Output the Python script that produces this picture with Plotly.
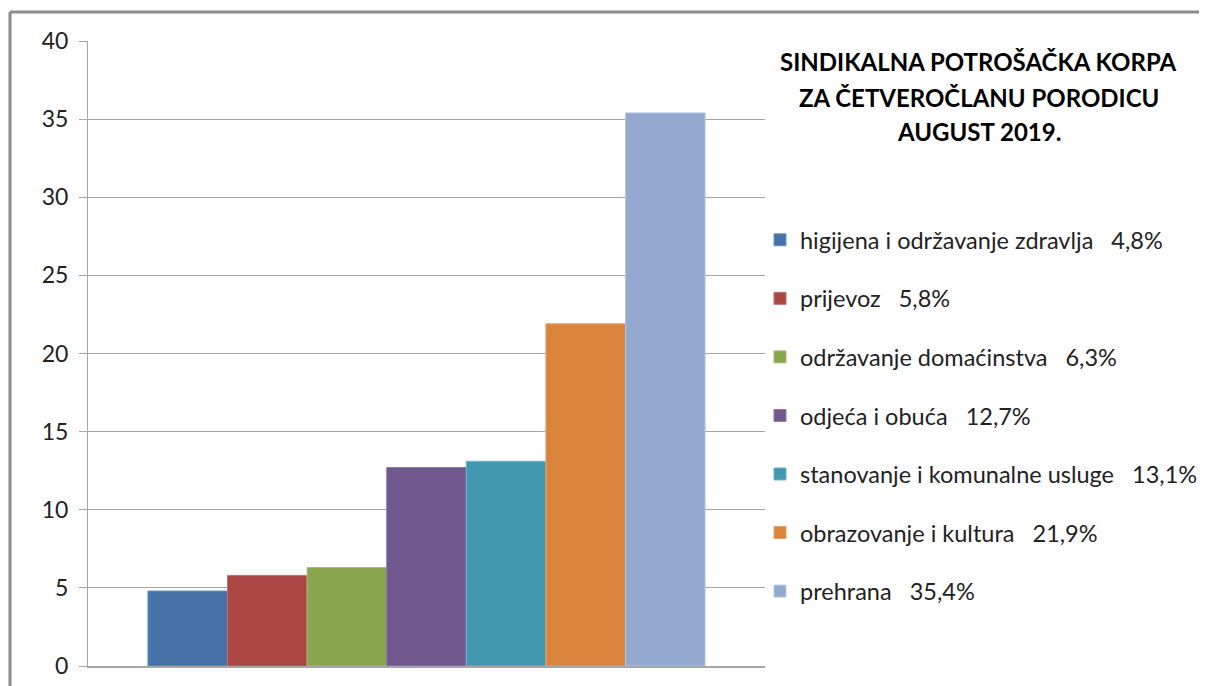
import plotly.graph_objects as go

categories = ["higijena i održavanje zdravlja", "prijevoz", "održavanje domaćinstva",
              "odjeća i obuća", "stanovanje i komunalne usluge", "obrazovanje i kultura", "prehrana"]
values = [4.8, 5.8, 6.3, 12.7, 13.1, 21.9, 35.4]
pct_labels = ["4,8%", "5,8%", "6,3%", "12,7%", "13,1%", "21,9%", "35,4%"]
colors = ["#4572A7", "#AA4643", "#89A54E", "#71588F", "#4198AF", "#DB843D", "#93A9CF"]
line_colors = ["#6f93c2", "#c0706d", "#a5bf74", "#9079ab", "#6cb4c8", "#e8a26b", "#b6c8e6"]
title_lines = ["SINDIKALNA POTROŠAČKA KORPA", "ZA ČETVEROČLANU PORODICU", "AUGUST 2019."]
y_ticks = [0, 5, 10, 15, 20, 25, 30, 35, 40]

OFF = 8  # page body margin
W, H = 1207 - OFF, 686 - OFF
L, R, T, B = 88 - OFF, 765 - OFF, 41 - OFF, 666 - OFF

fig = go.Figure()
for i, (c, v, p, col, lc) in enumerate(zip(categories, values, pct_labels, colors, line_colors)):
    fig.add_trace(go.Bar(
        x=[""], y=[v], name=f"{c}   {p}",
        marker=dict(color=col, line=dict(color=lc, width=1)),
        legendgroup=str(i),
    ))

def px_x(px):
    return (px - OFF - L) / (R - L)

def px_y(py):
    return (B - (py - OFF)) / (B - T)

annotations = []
for t, yy in zip(title_lines, [62, 97, 131]):
    annotations.append(dict(
        text=f"<b>{t}</b>", x=px_x(979), y=px_y(yy), xref="paper", yref="paper",
        xanchor="center", yanchor="middle", showarrow=False,
        font=dict(family="Lato", size=24, color="#000000"),
    ))

border = dict(color="#8C8C8C", width=3)
shapes = [
    dict(type="line", xref="paper", yref="paper", x0=px_x(10), x1=px_x(1210),
         y0=px_y(12), y1=px_y(12), line=border, layer="below"),
    dict(type="line", xref="paper", yref="paper", x0=px_x(10), x1=px_x(10),
         y0=px_y(12), y1=px_y(690), line=border, layer="below"),
]

fig.update_layout(
    width=W, height=H,
    margin=dict(l=L, r=W - R, t=T, b=H - B, pad=0, autoexpand=False),
    paper_bgcolor="white", plot_bgcolor="white",
    barmode="group", bargap=0.177, bargroupgap=0,
    font=dict(family="Lato", size=23, color="#222222"),
    showlegend=True,
    legend=dict(
        x=px_x(760), y=px_y(218), xanchor="left", yanchor="top",
        xref="paper", yref="paper",
        traceorder="grouped", tracegroupgap=25,
        font=dict(family="Lato", size=23.5, color="#222222"),
        itemwidth=30, bgcolor="rgba(0,0,0,0)",
    ),
    xaxis=dict(showticklabels=False, showgrid=False, zeroline=False, automargin=False,
               showline=True, linecolor="#A6A6A6", linewidth=2, ticks=""),
    yaxis=dict(range=[0, 40], tickvals=y_ticks, showgrid=True, gridcolor="#A6A6A6",
               gridwidth=1, zeroline=False, showline=True, linecolor="#A6A6A6",
               linewidth=1, ticks="outside", ticklen=8, tickcolor="#A6A6A6",
               ticklabelstandoff=6, automargin=False,
               tickfont=dict(family="Lato", size=23, color="#222222")),
    annotations=annotations,
    shapes=shapes,
)

fig.write_html("out.html")
